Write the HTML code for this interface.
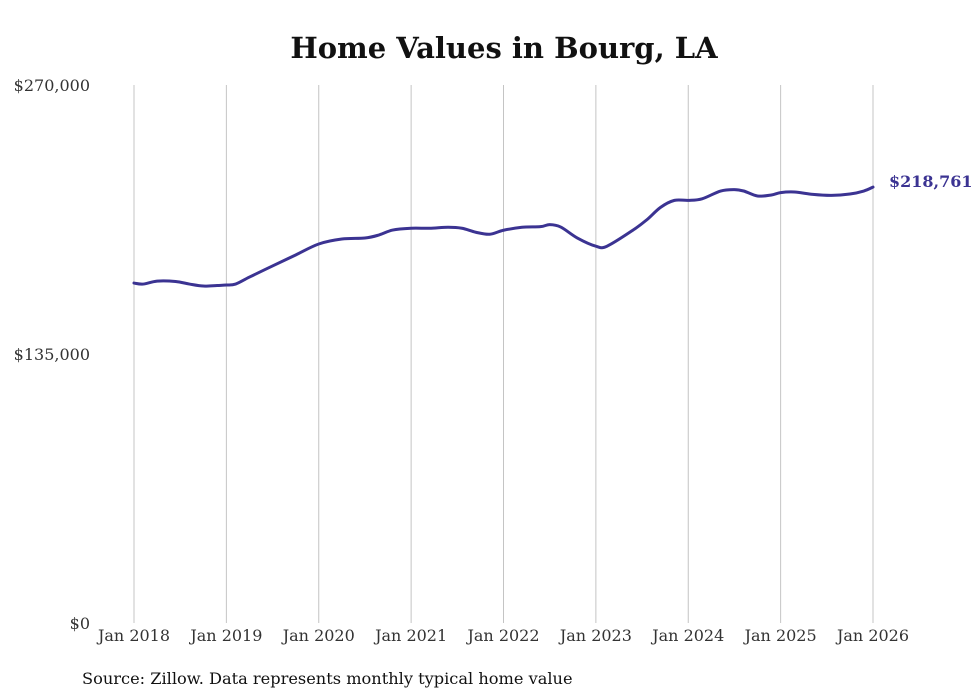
<!DOCTYPE html>
<html><head><meta charset="utf-8"><style>
html,body{margin:0;padding:0;background:#fff;width:980px;height:699px;overflow:hidden}
svg text{font-family:"DejaVu Serif","Liberation Serif",serif}
</style></head><body>
<svg id="chart" width="980" height="699" viewBox="0 0 980 699">
<text x="504" y="58" text-anchor="middle" font-size="29" font-weight="bold" fill="#111">Home Values in Bourg, LA</text>
<g id="grid"></g><g id="yticks"></g><g id="xticks"></g>
<path id="line" fill="none" stroke="#3b3392" stroke-width="3" stroke-linejoin="round" stroke-linecap="round"/>
<text id="endlabel" font-size="16" font-weight="bold" fill="#3b3392"></text>
<text x="82" y="684" font-size="16.2" fill="#111">Source: Zillow. Data represents monthly typical home value</text>
</svg>
<script>
const years=[2018,2019,2020,2021,2022,2023,2024,2025,2026];
const yTicks=[0,135000,270000];
const dates=[2018.0,2018.1,2018.25,2018.45,2018.6,2018.75,2018.9,2019.0,2019.1,2019.25,2019.5,2019.75,2020.0,2020.25,2020.5,2020.65,2020.8,2021.0,2021.2,2021.4,2021.55,2021.7,2021.85,2022.0,2022.2,2022.4,2022.5,2022.62,2022.8,2023.0,2023.12,2023.4,2023.55,2023.7,2023.85,2024.0,2024.15,2024.35,2024.5,2024.6,2024.75,2024.9,2025.0,2025.15,2025.35,2025.55,2025.75,2025.9,2026.0];
const values=[170600,170100,171600,171400,170100,169100,169400,169600,170100,173600,179200,184700,190200,192700,193200,194700,197200,198100,198100,198600,198100,196100,195100,197100,198600,198900,199900,198700,193200,189100,189100,197100,202300,208600,212100,212100,212900,216800,217500,216800,214300,214800,216000,216300,215100,214600,215300,216800,218761];
const NS='http://www.w3.org/2000/svg';
const x=t=>134+(t-2018)*(873-134)/8;
const y=v=>623-v/270000*538;
const fmt=v=>'$'+v.toLocaleString('en-US');
const grid=document.getElementById('grid'),xt=document.getElementById('xticks'),yt=document.getElementById('yticks');
years.forEach(yr=>{
 const l=document.createElementNS(NS,'line');
 l.setAttribute('x1',x(yr));l.setAttribute('x2',x(yr));l.setAttribute('y1',85);l.setAttribute('y2',623);
 l.setAttribute('stroke','#c4c4c4');l.setAttribute('stroke-width','1');
 
 
 grid.appendChild(l);
 const t=document.createElementNS(NS,'text');
 t.setAttribute('x',x(yr));t.setAttribute('y',641);t.setAttribute('text-anchor','middle');t.setAttribute('font-size','16');t.setAttribute('fill','#333');
 t.textContent='Jan '+yr;
 
 
 xt.appendChild(t);
});
yTicks.forEach(v=>{
 const t=document.createElementNS(NS,'text');
 t.setAttribute('x',90);t.setAttribute('y',y(v)+6);t.setAttribute('text-anchor','end');t.setAttribute('font-size','16');t.setAttribute('fill','#333');
 t.textContent=fmt(v);
 
 
 yt.appendChild(t);
});
const pts=dates.map((d,i)=>[x(d),y(values[i])]);
let d='M'+pts[0][0]+','+pts[0][1];
for(let i=0;i<pts.length-1;i++){
 const p0=pts[Math.max(0,i-1)],p1=pts[i],p2=pts[i+1],p3=pts[Math.min(pts.length-1,i+2)];
 const c1=[p1[0]+(p2[0]-p0[0])/6,p1[1]+(p2[1]-p0[1])/6],c2=[p2[0]-(p3[0]-p1[0])/6,p2[1]-(p3[1]-p1[1])/6];
 d+=' C'+c1+' '+c2+' '+p2;
}
document.getElementById('line').setAttribute('d',d);
const last=pts[pts.length-1],el=document.getElementById('endlabel');
el.setAttribute('x',last[0]+16);el.setAttribute('y',last[1]);
el.textContent=fmt(values[values.length-1]);
</script>
</body></html>
